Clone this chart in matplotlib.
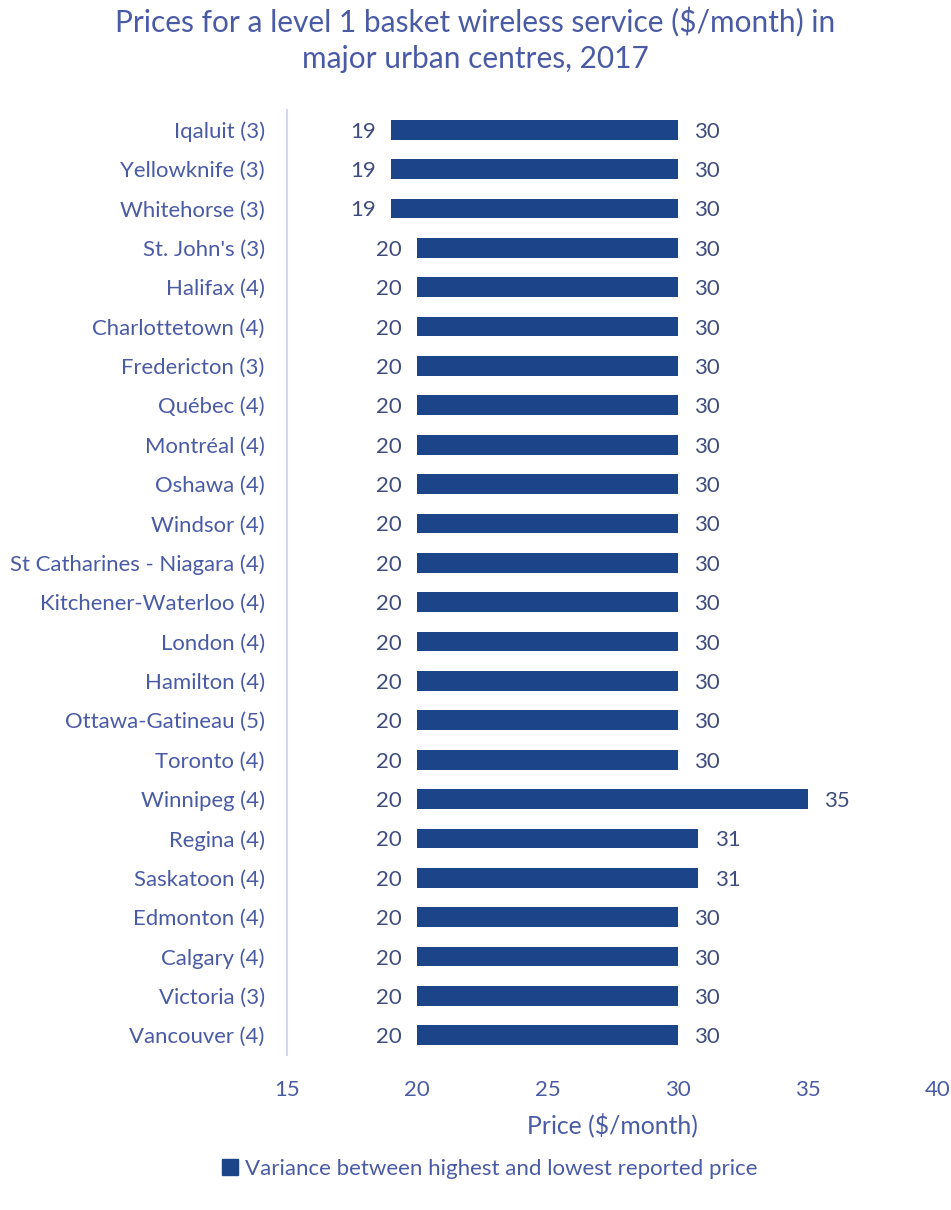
import numpy as np
import matplotlib
matplotlib.use("Agg")
import matplotlib.pyplot as plt
from matplotlib.patches import Patch

# Data (top to bottom)
cities = ["Iqaluit (3)", "Yellowknife (3)", "Whitehorse (3)", "St. John's (3)",
          "Halifax (4)", "Charlottetown (4)", "Fredericton (3)", "Québec (4)",
          "Montréal (4)", "Oshawa (4)", "Windsor (4)", "St Catharines - Niagara (4)",
          "Kitchener-Waterloo (4)", "London (4)", "Hamilton (4)", "Ottawa-Gatineau (5)",
          "Toronto (4)", "Winnipeg (4)", "Regina (4)", "Saskatoon (4)",
          "Edmonton (4)", "Calgary (4)", "Victoria (3)", "Vancouver (4)"]
lowest = [19, 19, 19, 20, 20, 20, 20, 20, 20, 20, 20, 20,
          20, 20, 20, 20, 20, 20, 20, 20, 20, 20, 20, 20]
highest = [30, 30, 30, 30, 30, 30, 30, 30, 30, 30, 30, 30,
           30, 30, 30, 30, 30, 35, 30.8, 30.8, 30, 30, 30, 30]
xticks = [15, 20, 25, 30, 35, 40]

plt.rcParams['font.family'] = ['Lato', 'DejaVu Sans']

bar_col = '#1C4489'
txt_col = '#4A5BA6'
val_col = '#3E4D7E'

fig = plt.figure(figsize=(9.51, 12.10), dpi=100)
ax = fig.add_axes([0.3018, 0.1281, 0.6845, 0.781])

y = np.arange(len(cities))
lo = np.array(lowest, dtype=float)
hi = np.array(highest, dtype=float)
ax.barh(y, hi - lo, left=lo, height=0.5, color=bar_col)

# value labels at both ends
for yi, l, h in zip(y, lo, hi):
    ax.annotate(f"{l:.0f}", (l, yi), xytext=(-11, 0), textcoords='offset points',
                ha='right', va='center_baseline', fontsize=16, color=val_col)
    ax.annotate(f"{h:.0f}", (h, yi), xytext=(12, 0), textcoords='offset points',
                ha='left', va='center_baseline', fontsize=16, color=val_col)

ax.set_ylim(len(cities) - 0.5, -0.5)
ax.set_xlim(15, 40)
ax.set_yticks(y)
ax.set_yticklabels(cities, fontsize=15.9, color=txt_col, va='center_baseline')
ax.set_xticks(xticks)
ax.set_xticklabels([str(t) for t in xticks], fontsize=16, color=txt_col)
ax.tick_params(length=0)
ax.tick_params(axis='y', pad=16)
ax.tick_params(axis='x', pad=18)

for s in ['top', 'right', 'bottom']:
    ax.spines[s].set_visible(False)
ax.spines['left'].set_color('#D3D8EA')
ax.spines['left'].set_linewidth(1.5)

ax.set_xlabel("Price ($/month)", fontsize=17.8, color=txt_col, labelpad=9)

fig.suptitle("Prices for a level 1 basket wireless service ($/month) in\nmajor urban centres, 2017",
             x=0.5, y=0.994, fontsize=21.5, color=txt_col, linespacing=1.35)

fig.legend(handles=[Patch(color=bar_col)],
           labels=["Variance between highest and lowest reported price"],
           loc='center', bbox_to_anchor=(0.515, 0.034), frameon=False,
           fontsize=16, labelcolor=txt_col, handlelength=0.7, handleheight=0.7,
           handletextpad=0.3)

fig.savefig("out.png", dpi=100)
